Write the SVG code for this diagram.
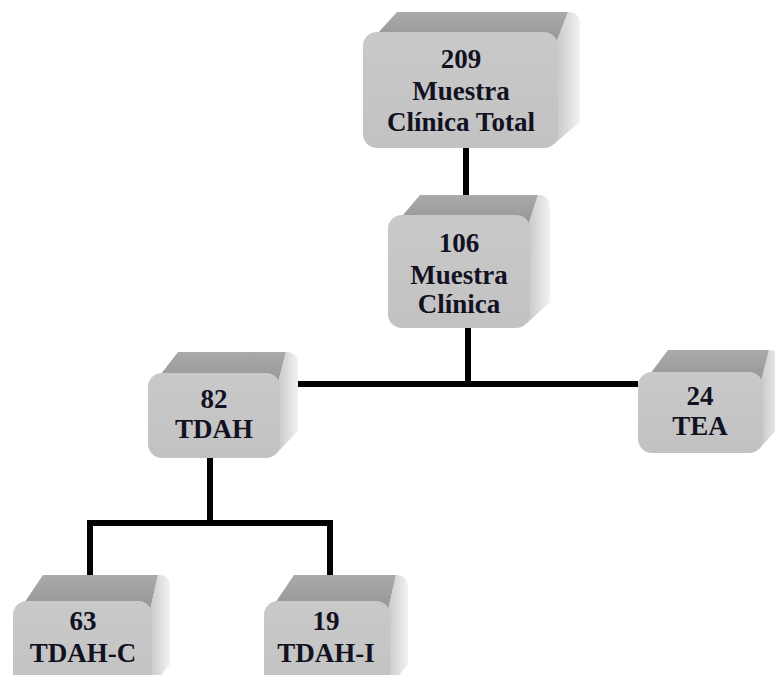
<svg xmlns="http://www.w3.org/2000/svg" width="775" height="675" viewBox="0 0 775 675">
<defs>
<linearGradient id="gTop" x1="0" y1="0" x2="0" y2="1">
<stop offset="0" stop-color="#aaaaaa"/>
<stop offset="1" stop-color="#939393"/>
</linearGradient>
<linearGradient id="gSide" x1="0" y1="0" x2="1" y2="0">
<stop offset="0" stop-color="#c4c4c4"/>
<stop offset="1" stop-color="#f2f2f2"/>
</linearGradient>
<linearGradient id="gFront" x1="0" y1="0" x2="0" y2="1">
<stop offset="0" stop-color="#c9c9c9"/>
<stop offset="1" stop-color="#c2c2c2"/>
</linearGradient>
</defs>
<style>
.top{fill:url(#gTop);}
.side{fill:url(#gSide);}
.front{fill:url(#gFront);}
.conn{stroke:#000;stroke-width:6;fill:none;stroke-linecap:butt;}
text{font-family:"Liberation Serif","Times New Roman",serif;font-weight:bold;font-size:27px;fill:#111122;text-anchor:middle;}
</style>
<rect width="775" height="675" fill="#ffffff"/>
<g id="connectors">
<path class="conn" d="M466,148 V215"/>
<path class="conn" d="M468,328 V384"/>
<path class="conn" d="M280,384 H638"/>
<path class="conn" d="M210,458 V523"/>
<path class="conn" d="M87,523 H333"/>
<path class="conn" d="M90,520 V601"/>
<path class="conn" d="M330,520 V601"/>
</g>
<g id="node-209">
<path class="top" d="M366,46 L397,12 L568,12 L555,46 Z"/>
<path class="side" d="M555,46 L568,12 Q580,12 580,24 L580,122 L554,144 Z"/>
<rect class="front" x="363" y="32" width="195" height="116" rx="14"/>
<text x="461" y="68">209</text>
<text x="461" y="100">Muestra</text>
<text x="461" y="131">Clínica Total</text>
</g>
<g id="node-106">
<path class="top" d="M391,229 L420,195 L538,195 L527,229 Z"/>
<path class="side" d="M527,229 L538,195 Q550,195 550,207 L550,302 L526,324 Z"/>
<rect class="front" x="388" y="215" width="142" height="113" rx="14"/>
<text x="459" y="252">106</text>
<text x="459" y="284">Muestra</text>
<text x="459" y="313">Clínica</text>
</g>
<g id="node-82">
<path class="top" d="M151,387 L178,352 L286,352 L277,387 Z"/>
<path class="side" d="M277,387 L286,352 Q298,352 298,364 L298,431 L276,454 Z"/>
<rect class="front" x="148" y="373" width="132" height="85" rx="14"/>
<text x="214" y="408">82</text>
<text x="214" y="438">TDAH</text>
</g>
<g id="node-24">
<path class="top" d="M641,386 L668,350 L769,350 L760,386 Z"/>
<path class="side" d="M760,386 L769,350 Q781,350 781,362 L781,425 L759,449 Z"/>
<rect class="front" x="638" y="372" width="125" height="81" rx="14"/>
<text x="700" y="405">24</text>
<text x="700" y="435">TEA</text>
</g>
<g id="node-63">
<path class="top" d="M16,615 L43,575 L158,575 L149,615 Z"/>
<path class="side" d="M149,615 L158,575 Q170,575 170,587 L170,664 L148,692 Z"/>
<rect class="front" x="13" y="601" width="139" height="95" rx="14"/>
<text x="83" y="630">63</text>
<text x="83" y="662">TDAH-C</text>
</g>
<g id="node-19">
<path class="top" d="M267,615 L294,575 L396,575 L387,615 Z"/>
<path class="side" d="M387,615 L396,575 Q408,575 408,587 L408,664 L386,692 Z"/>
<rect class="front" x="264" y="601" width="126" height="95" rx="14"/>
<text x="326" y="630">19</text>
<text x="326" y="662">TDAH-I</text>
</g>
</svg>
